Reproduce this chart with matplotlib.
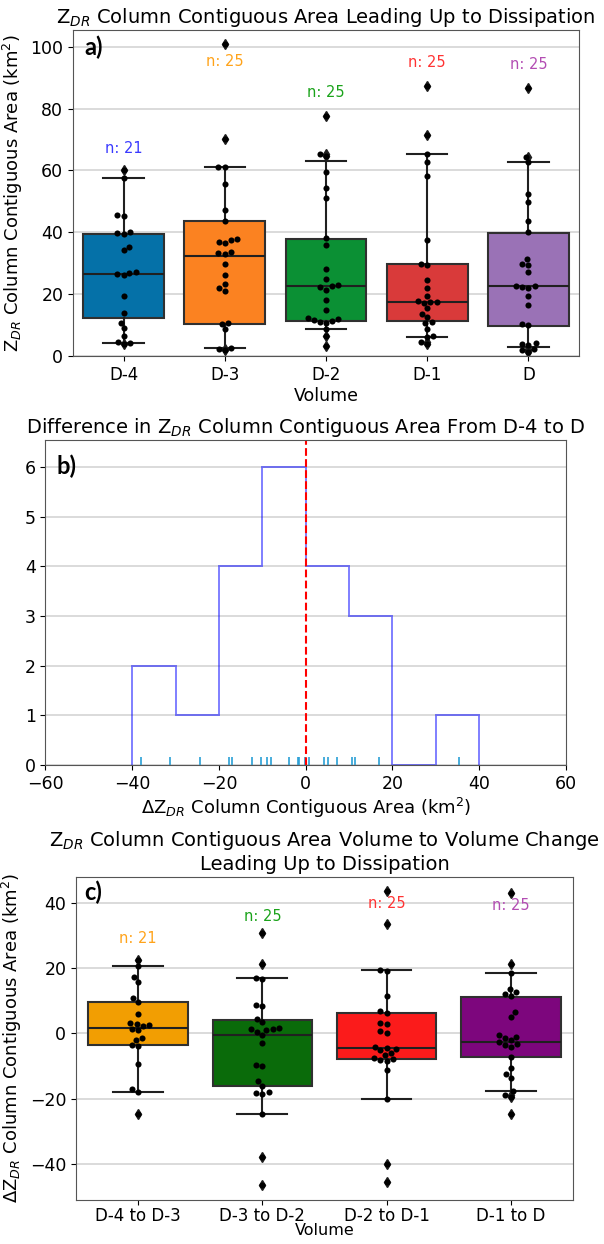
import numpy as np
import pandas as pd
import matplotlib
matplotlib.use("Agg")
import matplotlib.pyplot as plt
import seaborn as sns

# ---- panel a: contiguous area per volume ----
vol_names = ["D-4", "D-3", "D-2", "D-1", "D"]
area_d4 = [60.1, 57.6, 45.7, 45.3, 40.2, 39.9, 39.6, 35.3, 34.4, 27.3, 27.0,
           26.6, 26.2, 19.3, 14.0, 10.8, 9.0, 6.4, 4.6, 4.3, 3.8]
area_d3 = [100.9, 70.0, 61.2, 61.2, 55.6, 47.1, 43.7, 37.8, 37.4, 37.0, 36.5,
           33.5, 33.2, 33.0, 29.9, 26.1, 23.4, 22.0, 21.0, 10.6, 10.5, 8.8,
           2.6, 2.2, 1.8]
area_d2 = [77.6, 65.3, 64.6, 59.5, 54.2, 51.2, 38.0, 35.8, 28.2, 25.0, 22.9,
           22.5, 22.2, 21.5, 18.2, 15.0, 12.4, 12.0, 11.6, 11.3, 11.0, 10.8,
           8.8, 6.5, 3.1]
area_d1 = [87.4, 71.6, 65.4, 62.6, 58.1, 37.4, 29.8, 29.4, 24.5, 22.0, 19.5,
           17.9, 17.6, 17.4, 17.2, 15.5, 13.7, 12.6, 11.0, 10.7, 8.8, 6.4,
           6.0, 4.5, 4.0]
area_d0 = [86.8, 64.4, 62.6, 52.3, 49.8, 43.7, 40.0, 31.3, 29.8, 29.4, 27.2,
           22.8, 22.5, 22.3, 22.1, 19.4, 16.6, 10.2, 9.9, 4.2, 3.8, 3.5, 2.4,
           1.8, 1.3]
a_q1 = [12.3, 10.5, 11.3, 11.3, 9.6]
a_med = [26.4, 32.4, 22.5, 17.5, 22.5]
a_q3 = [39.6, 43.7, 37.9, 29.6, 39.9]
a_lo = [4.3, 2.6, 8.8, 6.0, 2.9]
a_hi = [57.6, 61.2, 63.2, 65.4, 62.6]
a_n = [21, 25, 25, 25, 25]
a_ny = [67.1, 95.1, 85.1, 94.9, 94.3]

# ---- panel b: difference D-4 to D ----
diff_area = [-37.9, -31.4, -24.3, -17.6, -17.1, -12.5, -10.2, -9.0, -7.9, -3.9,
             -1.9, -1.5, -0.2, 0.7, 4.1, 5.1, 7.3, 10.7, 11.3, 17.0, 35.4]
hist_bins = [-40, -30, -20, -10, 0, 10, 20, 30, 40]

# ---- panel c: volume to volume change ----
chg_names = ["D-4 to D-3", "D-3 to D-2", "D-2 to D-1", "D-1 to D"]
chg_43 = [22.6, 20.6, 17.2, 15.7, 10.8, 9.8, 6.1, 3.3, 3.0, 2.6, 2.3, 1.5, 1.0,
          -1.5, -2.0, -3.5, -3.8, -9.4, -17.2, -18.1, -24.6]
chg_32 = [30.9, 21.3, 17.0, 16.7, 8.7, 8.5, 4.3, 3.5, 1.8, 1.5, 1.3, 1.0, 0.5,
          -0.5, -3.0, -9.7, -9.9, -14.7, -16.2, -18.0, -18.3, -18.5, -24.8,
          -38.0, -46.6]
chg_21 = [43.8, 33.6, 19.4, 19.3, 11.6, 6.8, 6.3, 3.1, 2.9, 0.7, 0.2, -4.1,
          -4.5, -4.8, -5.2, -6.0, -6.5, -7.5, -7.8, -8.0, -8.3, -11.3, -20.1,
          -40.0, -45.6]
chg_10 = [43.0, 21.2, 18.5, 13.7, 12.7, 12.2, 11.5, 6.6, 5.1, -0.5, -1.0, -1.5,
          -2.0, -2.5, -3.2, -3.5, -4.0, -7.1, -10.6, -12.5, -13.7, -17.7,
          -18.9, -19.5, -24.6]
c_q1 = [-3.5, -16.0, -7.8, -7.2]
c_med = [1.7, -0.5, -4.4, -2.5]
c_q3 = [9.8, 4.2, 6.2, 11.2]
c_lo = [-18.1, -24.8, -20.1, -17.7]
c_hi = [20.6, 17.0, 19.4, 18.5]
c_n = [21, 25, 25, 25]
c_ny = [29.2, 36.0, 40.0, 39.3]

a_colors = ["#0571a8", "#fb8221", "#0b9034", "#d93a3a", "#9a72b6"]
a_ncolors = ["#3a3aff", "#ffa31a", "#1aa31a", "#ff3333", "#b34db3"]
c_colors = ["#f29e02", "#0a6b0a", "#fb1b1b", "#7d067d"]
c_ncolors = ["#ffa31a", "#1aa31a", "#ff3333", "#b34db3"]


def draw_boxes(ax, groups, names, q1, med, q3, lo, hi, colors):
    stats = []
    for i in range(len(groups)):
        fl = [v for v in groups[i] if v > hi[i] or v < lo[i]]
        stats.append(dict(q1=q1[i], med=med[i], q3=q3[i], whislo=lo[i],
                          whishi=hi[i], fliers=fl, label=names[i]))
    res = ax.bxp(stats, positions=range(len(groups)), widths=0.8,
                 patch_artist=True, showfliers=True,
                 boxprops=dict(edgecolor="#303030", linewidth=1.5),
                 medianprops=dict(color="#202020", linewidth=1.5),
                 whiskerprops=dict(color="#202020", linewidth=1.5),
                 capprops=dict(color="#202020", linewidth=1.5),
                 flierprops=dict(marker="d", markerfacecolor="#202020",
                                 markeredgecolor="#202020", markersize=5))
    for b, c in zip(res["boxes"], colors):
        b.set_facecolor(c)
    df = pd.DataFrame({"g": np.repeat(range(len(groups)), [len(g) for g in groups]),
                       "v": np.concatenate(groups)})
    sns.swarmplot(data=df, x="g", y="v", ax=ax, color="black", size=4.4,
                  native_scale=True, zorder=5)
    ax.set_xlim(-0.5, len(groups) - 0.5)
    ax.set_xticks(range(len(groups)))
    ax.set_xticklabels(names)


def style(ax):
    ax.set_axisbelow(True)
    ax.yaxis.grid(True, color="#d4d4d4", linewidth=1.2)
    for s in ax.spines.values():
        s.set_color("#555555")


fig = plt.figure(figsize=(6.04, 12.44), dpi=100)
title_fs = 14
tick_fs = 12.5
lab_fs = 13

# a)
ax1 = fig.add_axes([0.1209, 0.7138, 0.8377, 0.2621])
style(ax1)
draw_boxes(ax1, [area_d4, area_d3, area_d2, area_d1, area_d0], vol_names,
           a_q1, a_med, a_q3, a_lo, a_hi, a_colors)
for i in range(len(a_n)):
    ax1.text(i, a_ny[i], "n: %d" % a_n[i], color=a_ncolors[i], ha="center",
             va="center", fontsize=10.5)
ax1.set_ylim(0, 105.4)
ax1.set_yticks([0, 20, 40, 60, 80, 100])
ax1.tick_params(axis="y", labelsize=tick_fs)
ax1.tick_params(axis="x", labelsize=12)
ax1.set_xlabel("Volume", fontsize=12.5, labelpad=2)
ax1.set_ylabel("Z$_{DR}$ Column Contiguous Area (km$^2$)", fontsize=lab_fs)
ax1.set_title("Z$_{DR}$ Column Contiguous Area Leading Up to Dissipation",
              fontsize=title_fs, pad=5)
ax1.text(0.022, 0.948, "a)", transform=ax1.transAxes, fontsize=17,
         fontweight="bold", family="Lato", va="center")

# b)
ax2 = fig.add_axes([0.0753, 0.3850, 0.8618, 0.2613])
style(ax2)
ax2.hist(diff_area, bins=hist_bins, histtype="step", color="blue", alpha=0.5,
         linewidth=1.4)
sns.rugplot(x=diff_area, ax=ax2, height=0.025, color="#2a9fd6", linewidth=1.2)
ax2.axvline(0, color="red", linestyle="--", linewidth=1.5)
ax2.set_xlim(-60, 60)
ax2.set_ylim(0, 6.54)
ax2.set_xticks([-60, -40, -20, 0, 20, 40, 60])
ax2.set_yticks(range(7))
ax2.tick_params(labelsize=tick_fs)
ax2.set_xlabel("ΔZ$_{DR}$ Column Contiguous Area (km$^2$)", fontsize=lab_fs,
               labelpad=2)
ax2.set_title("Difference in Z$_{DR}$ Column Contiguous Area From D-4 to D",
              fontsize=title_fs, pad=5)
ax2.text(0.022, 0.92, "b)", transform=ax2.transAxes, fontsize=17,
         fontweight="bold", family="Lato", va="center")

# c)
ax3 = fig.add_axes([0.1258, 0.0355, 0.8228, 0.2596])
style(ax3)
draw_boxes(ax3, [chg_43, chg_32, chg_21, chg_10], chg_names,
           c_q1, c_med, c_q3, c_lo, c_hi, c_colors)
for i in range(len(c_n)):
    ax3.text(i, c_ny[i], "n: %d" % c_n[i], color=c_ncolors[i], ha="center",
             va="center", fontsize=10.5)
ax3.set_ylim(-51.1, 48.1)
ax3.set_yticks([-40, -20, 0, 20, 40])
ax3.tick_params(axis="y", labelsize=tick_fs)
ax3.tick_params(axis="x", labelsize=12, pad=2)
ax3.set_xlabel("Volume", fontsize=11.5, labelpad=-1.5)
ax3.set_ylabel("ΔZ$_{DR}$ Column Contiguous Area (km$^2$)", fontsize=lab_fs)
ax3.set_title("Z$_{DR}$ Column Contiguous Area Volume to Volume Change\n"
              "Leading Up to Dissipation", fontsize=title_fs, pad=5)
ax3.text(0.016, 0.951, "c)", transform=ax3.transAxes, fontsize=17,
         fontweight="bold", family="Lato", va="center")

fig.savefig("out.png", dpi=100)
